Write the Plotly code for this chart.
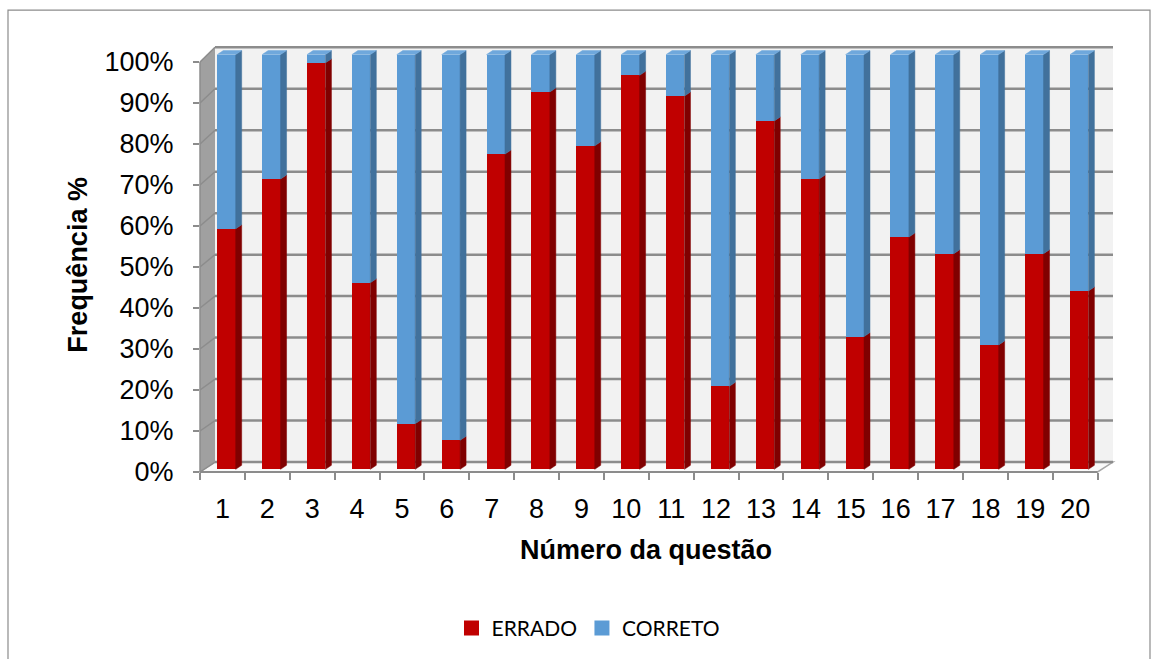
import plotly.graph_objects as go

# Percent of answers per question
questions = list(range(1, 21))
errado = [58, 70, 98, 45, 11, 7, 76, 91, 78, 95, 90, 20, 84, 70, 32, 56, 52, 30, 52, 43]
correto = [100 - v for v in errado]
y_ticks = list(range(0, 101, 10))
y_tick_text = [f"{t}%" for t in y_ticks]

RED, RED_SIDE = "#C00000", "#800000"
BLUE, BLUE_SIDE, BLUE_TOP = "#5B9BD5", "#41719C", "#6FA8DC"

W, H = 1157, 659
L, R, T, B = 200, 1113, 40, 472.7          # plot area, px
CAT = 44.88                                # px per category
BAR_PX = 4.154                             # px per percent on the bars
BAR_ZERO = 470.0                           # px of 0% for the bar fronts
FRONT_ZERO, FRONT_STEP = 472.7, 41.07      # front tick scale (px per 10%)
BACK_ZERO = 462.7                          # back wall 0% line
DEPTH_X = 15                               # wall depth, px

def pxx(p):
    return (p - L) / (R - L)

def pxy(p):
    return (B - p) / (B - T)

bar_w = 0.41
bar_off = -0.115
dx = 6 / CAT
dy = 4 / BAR_PX

fig = go.Figure()

fig.add_trace(go.Bar(x=questions, y=errado, name="ERRADO", width=bar_w, offset=bar_off,
                     marker=dict(color=RED, line=dict(width=0)), showlegend=False))
fig.add_trace(go.Bar(x=questions, y=correto, name="CORRETO", width=bar_w, offset=bar_off,
                     marker=dict(color=BLUE, line=dict(width=0)), showlegend=False))

# side and top faces of the columns
red_x, red_y, blue_x, blue_y, top_x, top_y = [], [], [], [], [], []
for q, e in zip(questions, errado):
    xl = q + bar_off
    xr = xl + bar_w
    red_x += [xr, xr, xr + dx, xr + dx, xr, None]
    red_y += [0, e, e + dy, dy, 0, None]
    blue_x += [xr, xr, xr + dx, xr + dx, xr, None]
    blue_y += [e, 100, 100 + dy, e + dy, e, None]
    top_x += [xl, xr, xr + dx, xl + dx, xl, None]
    top_y += [100, 100, 100 + dy, 100 + dy, 100, None]

for xs, ys, col in [(red_x, red_y, RED_SIDE), (blue_x, blue_y, BLUE_SIDE), (top_x, top_y, BLUE_TOP)]:
    fig.add_trace(go.Scatter(x=xs, y=ys, mode="lines", fill="toself", fillcolor=col,
                             line=dict(width=0.5, color=col), showlegend=False, hoverinfo="skip"))

# legend keys with square swatches
for name, col in [("ERRADO", RED), ("CORRETO", BLUE)]:
    fig.add_trace(go.Scatter(x=[None], y=[None], mode="markers", name=name,
                             marker=dict(symbol="square", size=15, color=col)))

# carrier for the front tick axes
fig.add_trace(go.Scatter(x=[1], y=[0], xaxis="x2", yaxis="y2", mode="markers",
                         marker=dict(opacity=0), showlegend=False, hoverinfo="skip"))

shapes = []
# back wall
shapes.append(dict(type="rect", xref="paper", yref="paper", layer="below",
                   x0=pxx(L + DEPTH_X), x1=pxx(R), y0=pxy(BACK_ZERO), y1=pxy(BACK_ZERO - 100 * BAR_PX),
                   fillcolor="#F2F2F2", line=dict(width=0)))
# left wall
lw = f"M {pxx(L)},{pxy(FRONT_ZERO)} L {pxx(L)},{pxy(FRONT_ZERO - 10 * FRONT_STEP)} " \
     f"L {pxx(L + DEPTH_X)},{pxy(BACK_ZERO - 100 * BAR_PX)} L {pxx(L + DEPTH_X)},{pxy(BACK_ZERO)} Z"
shapes.append(dict(type="path", xref="paper", yref="paper", layer="below", path=lw,
                   fillcolor="#A0A0A0", line=dict(width=0)))
# floor
front_end = L + 20 * CAT
fl = f"M {pxx(L)},{pxy(FRONT_ZERO)} L {pxx(front_end)},{pxy(FRONT_ZERO)} " \
     f"L {pxx(R)},{pxy(BACK_ZERO)} L {pxx(L + DEPTH_X)},{pxy(BACK_ZERO)} Z"
shapes.append(dict(type="path", xref="paper", yref="paper", layer="below", path=fl,
                   fillcolor="#F9F9F9", line=dict(width=1.5, color="#A6A6A6")))
# gridlines on the back wall and the left wall
for t in y_ticks:
    yb = BACK_ZERO - t * BAR_PX
    yf = FRONT_ZERO - t / 10 * FRONT_STEP
    shapes.append(dict(type="line", xref="paper", yref="paper", layer="below",
                       x0=pxx(L + DEPTH_X), x1=pxx(R), y0=pxy(yb), y1=pxy(yb),
                       line=dict(color="#8C8C8C", width=2.5)))
    shapes.append(dict(type="line", xref="paper", yref="paper", layer="below",
                       x0=pxx(L), x1=pxx(L + DEPTH_X), y0=pxy(yf), y1=pxy(yb),
                       line=dict(color="#8C8C8C", width=1.5)))
# front axis lines
shapes.append(dict(type="line", xref="paper", yref="paper",
                   x0=pxx(L), x1=pxx(front_end), y0=pxy(FRONT_ZERO), y1=pxy(FRONT_ZERO),
                   line=dict(color="#8C8C8C", width=2)))
shapes.append(dict(type="line", xref="paper", yref="paper", layer="below",
                   x0=pxx(L), x1=pxx(L), y0=pxy(FRONT_ZERO), y1=pxy(FRONT_ZERO - 10 * FRONT_STEP),
                   line=dict(color="#8C8C8C", width=1.5)))
# chart border
shapes.append(dict(type="rect", xref="paper", yref="paper",
                   x0=pxx(8), x1=pxx(1150), y0=pxy(663), y1=pxy(10),
                   line=dict(color="#8C8C8C", width=1.2)))

xr_max = 0.5 + (R - L) / CAT
y_lo = -(B - BAR_ZERO) / BAR_PX
y_hi = (BAR_ZERO - T) / BAR_PX
y2_hi = (FRONT_ZERO - T) / (FRONT_STEP / 10)

axis_font = dict(family="Liberation Sans, Arial, sans-serif", size=27, color="#000000")

fig.update_layout(
    width=W, height=H,
    margin=dict(l=L, r=W - R, t=T, b=H - B),
    paper_bgcolor="white", plot_bgcolor="rgba(0,0,0,0)",
    barmode="stack", bargap=0,
    shapes=shapes,
    showlegend=True,
    legend=dict(orientation="h", x=pxx(588), xanchor="center", y=pxy(628), yanchor="middle",
                font=dict(family="Lato, Noto Sans, sans-serif", size=21, color="#000000"),
                itemwidth=30, traceorder="normal"),
    xaxis=dict(range=[0.5, xr_max], tickvals=questions, ticktext=[str(q) for q in questions],
               showgrid=False, zeroline=False, showline=False, ticks="", tickfont=axis_font,
               ticklabelstandoff=18),
    xaxis2=dict(range=[0.5, xr_max], overlaying="x", anchor="y2", side="bottom",
                tickvals=[q - 0.5 for q in questions] + [20.5], showticklabels=False,
                ticks="outside", ticklen=7, tickcolor="#8C8C8C", tickwidth=1.5,
                showgrid=False, zeroline=False, showline=False),
    yaxis=dict(range=[y_lo, y_hi], showticklabels=False, showgrid=False, zeroline=False,
               showline=False, ticks=""),
    yaxis2=dict(range=[0, y2_hi], overlaying="y", anchor="x2", side="left",
                tickvals=y_ticks, ticktext=y_tick_text, tickfont=axis_font,
                ticks="outside", ticklen=6, tickcolor="#8C8C8C", tickwidth=1.5,
                showgrid=False, zeroline=False, showline=False, ticklabelstandoff=14),
    annotations=[
        dict(text="<b>Número da questão</b>", xref="paper", yref="paper",
             x=pxx(646), y=pxy(551), xanchor="center", yanchor="middle", showarrow=False,
             font=dict(family="Liberation Sans, Arial, sans-serif", size=27, color="#000000")),
        dict(text="<b>Frequência %</b>", xref="paper", yref="paper", textangle=-90,
             x=pxx(78), y=pxy(265), xanchor="center", yanchor="middle", showarrow=False,
             font=dict(family="Liberation Sans, Arial, sans-serif", size=27, color="#000000")),
    ],
)

fig.write_html("out.html")
